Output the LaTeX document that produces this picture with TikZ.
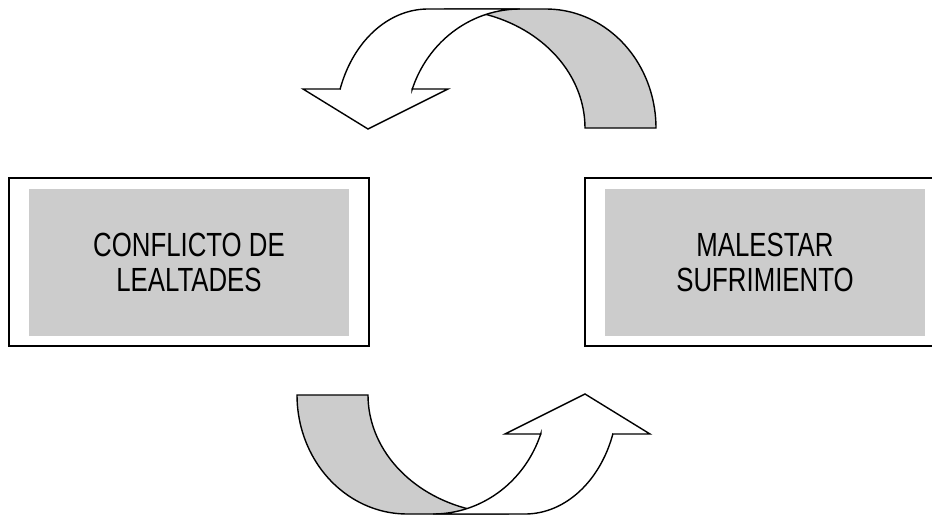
\documentclass[tikz,border=0pt]{standalone}
\usepackage{fontspec}
\setmainfont{Liberation Sans}[FakeStretch=0.77]
\definecolor{bandgray}{HTML}{CCCCCC}
\newcommand{\drawLoopArrow}{%
  \path[ribbonback] (585,128) -- (656,128)
    -- plot[domain=0:1,samples=40,variable=\t] ({546+110*cos(90*\t)},{128-119*sin(90*\t)})
    -- (444,9)
    -- plot[domain=0:1,samples=40,variable=\t] ({444+141*cos(90-90*\t)},{128-119*sin(90-90*\t)})
    -- cycle;
  \path[ribbonfront] (340,89) -- (303,89) -- (368,129) -- (448,89) -- (412,89)
    -- plot[domain=0:1,samples=40,variable=\t] ({520+114*cos(161.3-71.3*\t)},{128-119*sin(161.3-71.3*\t)})
    -- (428,9)
    -- plot[domain=0:1,samples=40,variable=\t] ({428+93*cos(90+70.9*\t)},{128-119*sin(90+70.9*\t)})
    -- cycle;
}
\begin{document}
\begin{tikzpicture}[x=1pt,y=-1pt,
  outerbox/.style={draw=black,line width=2pt,fill=white,inner sep=0pt,outer sep=0pt,minimum height=167.5pt},
  labelbox/.style={fill=bandgray,inner sep=0pt,outer sep=0pt,minimum width=320pt,minimum height=147pt,align=center,font=\fontsize{33.5}{35}\selectfont},
  ribbon/.style={draw=black,line width=1.4pt,line join=miter},
  ribbonback/.style={ribbon,fill=bandgray},
  ribbonfront/.style={ribbon,fill=white}]
\useasboundingbox (0,0) rectangle (932,517);
\clip (0,0) rectangle (932,517);
\fill[white] (0,0) rectangle (932,517);
% boxes
\node[outerbox,minimum width=360.5pt] (lframe) at (188.75,261.75) {};
\node[labelbox] (ltext) at (189,262.5) {CONFLICTO DE\\LEALTADES};
\node[outerbox,minimum width=352pt] (rframe) at (761,261.75) {};
\node[labelbox] (rtext) at (765,262.5) {MALESTAR\\SUFRIMIENTO};
% curved arrows
\drawLoopArrow
\begin{scope}[rotate around={180:(476.5,261.5)}]
\drawLoopArrow
\end{scope}
\end{tikzpicture}
\end{document}
